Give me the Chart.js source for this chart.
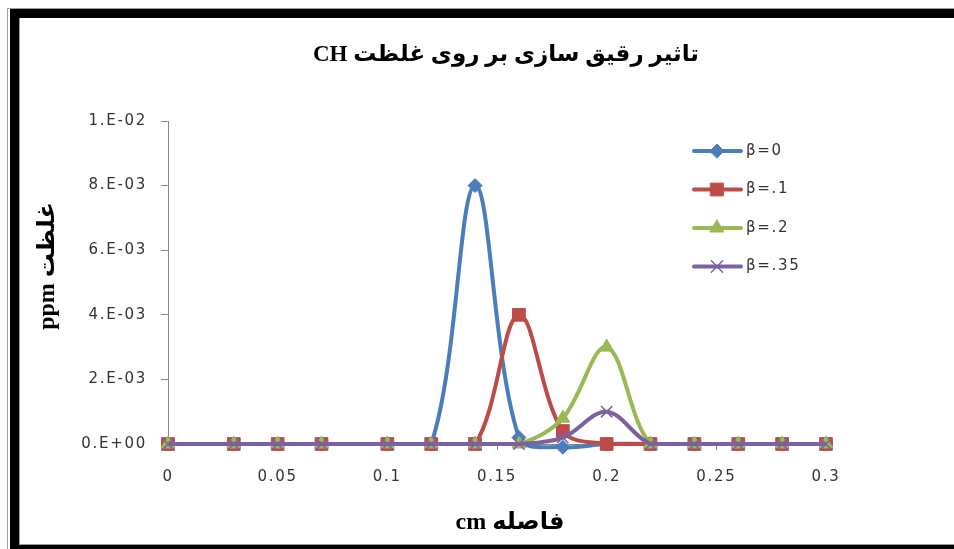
<!DOCTYPE html>
<html>
<head>
<meta charset="utf-8">
<script src="https://cdn.jsdelivr.net/npm/chart.js@4.4.1/dist/chart.umd.min.js"></script>
<style>
    html, body { margin: 0; padding: 0; background: #fff; overflow: hidden; }
    #hoja { position: relative; width: 954px; height: 549px; overflow: hidden; background: #fff; }
    #grafico { position: absolute; left: 0; top: 0; }
</style>
</head>
<body>
<div id="hoja">
<canvas id="grafico" width="1000" height="549"></canvas>
</div>
<script>
// distancia (cm) y concentración (ppm) para cada beta
const distancia = [0, 0.03, 0.05, 0.07, 0.1, 0.12, 0.14, 0.16, 0.18, 0.2, 0.22, 0.24, 0.26, 0.28, 0.3];
const beta0  = [0, 0, 0, 0, 0, 0, 0.008, 0.0002, -0.0001, 0, 0, 0, 0, 0, 0];
const beta1  = [0, 0, 0, 0, 0, 0, 0, 0.004, 0.0004, 0, 0, 0, 0, 0, 0];
const beta2  = [0, 0, 0, 0, 0, 0, 0, 0, 0.0008, 0.003, 0, 0, 0, 0, 0];
const beta35 = [0, 0, 0, 0, 0, 0, 0, 0, 0.0002, 0.001, 0, 0, 0, 0, 0];

const nombresSeries = ['β=0', 'β=.1', 'β=.2', 'β=.35'];

const xTicks = [0, 0.05, 0.1, 0.15, 0.2, 0.25, 0.3];
const xTickLabels = ['0', '0.05', '0.1', '0.15', '0.2', '0.25', '0.3'];
const yTicks = [0, 0.002, 0.004, 0.006, 0.008, 0.01];
const yTickLabels = ['0.E+00', '2.E-03', '4.E-03', '6.E-03', '8.E-03', '1.E-02'];

const titulo = 'تاثیر رقیق سازی بر روی غلظت CH';
const tituloX = 'فاصله cm';
const tituloY = 'غلظت ppm';

// los títulos en persa se escriben de derecha a izquierda
const rtl = t => '\u202B' + t + '\u202C';

const colorEje = '#868686';
const colorTexto = '#333';
const espaciado = '1.7px';
const fuenteTicks = { family: "'DejaVu Sans'", size: 15 };
const fuenteTitulo = "'Liberation Serif', 'DejaVu Sans', serif";

function puntos(valores) {
    return distancia.map((x, i) => ({ x: x, y: valores[i] }));
}

function serie(label, valores, color, estilo, radio, orden, bordePunto) {
    return {
        label: label,
        data: puntos(valores),
        borderColor: color,
        backgroundColor: color,
        pointBackgroundColor: color,
        pointBorderColor: color,
        pointBorderWidth: bordePunto,
        pointStyle: estilo,
        pointRadius: radio,
        borderWidth: 4,
        tension: 0.35,
        order: orden,
        clip: false
    };
}

// marco negro grueso alrededor del gráfico (abierto por la derecha)
const marcoHoja = {
    id: 'marcoHoja',
    beforeDraw(chart) {
        const ctx = chart.ctx;
        const ancho = chart.width;
        ctx.save();
        ctx.fillStyle = '#a0a0a0';
        ctx.fillRect(7, 8, 1, 541);
        ctx.fillRect(7, 8, ancho, 1);
        ctx.fillStyle = '#000';
        ctx.fillRect(10, 9, ancho, 9);
        ctx.fillRect(10, 9, 9, 540);
        ctx.fillRect(10, 545, ancho, 9);
        ctx.fillStyle = '#9a9a9a';
        ctx.fillRect(19, 18, 1, 527);
        ctx.fillRect(19, 544, ancho, 1);
        ctx.restore();
    }
};

// las etiquetas de los ejes (z = 1) salen después de las series, con letras más separadas
const espaciadoTicks = {
    id: 'espaciadoTicks',
    afterDatasetsDraw(chart) {
        chart.ctx.letterSpacing = espaciado;
    },
    afterDraw(chart) {
        chart.ctx.letterSpacing = '0px';
    }
};

// títulos de los ejes, colocados a mano
const titulosEjes = {
    id: 'titulosEjes',
    afterDraw(chart) {
        const ctx = chart.ctx;
        ctx.save();
        ctx.letterSpacing = '0px';
        ctx.fillStyle = '#000';
        ctx.font = 'bold 24px ' + fuenteTitulo;
        ctx.textAlign = 'center';
        ctx.textBaseline = 'middle';
        ctx.fillText(rtl(tituloX), 510, 523);
        ctx.translate(48, 266);
        ctx.rotate(-Math.PI / 2);
        ctx.fillText(rtl(tituloY), 0, 0);
        ctx.restore();
    }
};

// leyenda dibujada a mano: línea con el marcador en medio
const leyendaSeries = {
    id: 'leyendaSeries',
    afterDraw(chart) {
        const ctx = chart.ctx;
        chart.data.datasets.forEach((ds, i) => {
            const y = 151 + i * 38.5;
            ctx.save();
            ctx.strokeStyle = ds.borderColor;
            ctx.lineWidth = 4;
            ctx.lineCap = 'round';
            ctx.beginPath();
            ctx.moveTo(694, y);
            ctx.lineTo(741, y);
            ctx.stroke();
            ctx.fillStyle = ds.pointBackgroundColor;
            ctx.strokeStyle = ds.pointBorderColor;
            ctx.lineWidth = ds.pointBorderWidth;
            Chart.helpers.drawPoint(ctx, {
                pointStyle: ds.pointStyle,
                radius: ds.pointRadius,
                rotation: 0,
                borderWidth: ds.pointBorderWidth
            }, 717, y);
            ctx.letterSpacing = espaciado;
            ctx.fillStyle = colorTexto;
            ctx.font = "15px 'DejaVu Sans'";
            ctx.textAlign = 'left';
            ctx.textBaseline = 'middle';
            ctx.fillText(ds.label, 746, y);
            ctx.restore();
        });
    }
};

new Chart(document.getElementById('grafico'), {
    type: 'line',
    data: {
        datasets: [
            serie(nombresSeries[0], beta0, '#4A7EBB', 'rectRot', 7, 3, 1),
            serie(nombresSeries[1], beta1, '#BE4B48', 'rect', 9, 2, 1),
            serie(nombresSeries[2], beta2, '#98B954', 'triangle', 8, 1, 1),
            serie(nombresSeries[3], beta35, '#7D60A0', 'crossRot', 8, 0, 1.5)
        ]
    },
    options: {
        responsive: false,
        animation: false,
        layout: { padding: { left: 20, right: 8, top: 20, bottom: 45 } },
        plugins: {
            legend: { display: false },
            tooltip: { enabled: false },
            title: {
                display: true,
                text: rtl(titulo),
                color: '#000',
                font: { family: fuenteTitulo, size: 23, weight: 'bold' },
                padding: { top: 21.2, bottom: 52.2 }
            }
        },
        scales: {
            x: {
                type: 'linear',
                min: 0,
                max: 0.3,
                afterBuildTicks: s => { s.ticks = xTicks.map(v => ({ value: v })); },
                ticks: {
                    callback: (v, i) => xTickLabels[i],
                    color: colorTexto,
                    font: fuenteTicks,
                    padding: 18,
                    maxRotation: 0,
                    z: 1
                },
                grid: { drawOnChartArea: false, tickLength: 6, color: colorEje },
                border: { color: colorEje }
            },
            y: {
                min: 0,
                max: 0.01,
                afterBuildTicks: s => { s.ticks = yTicks.map(v => ({ value: v })); },
                afterFit: s => { s.width = 148; },
                ticks: {
                    callback: (v, i) => yTickLabels[i],
                    color: colorTexto,
                    font: fuenteTicks,
                    padding: 14,
                    z: 1
                },
                grid: { drawOnChartArea: false, tickLength: 7, color: colorEje },
                border: { color: colorEje }
            },
            // eje vacío a la derecha: deja el hueco donde va la leyenda
            margenDerecho: {
                type: 'linear',
                position: 'right',
                grid: { display: false },
                border: { display: false },
                ticks: { display: false },
                afterFit: s => { s.width = 166; }
            }
        }
    },
    plugins: [marcoHoja, espaciadoTicks, titulosEjes, leyendaSeries]
});
</script>
</body>
</html>
